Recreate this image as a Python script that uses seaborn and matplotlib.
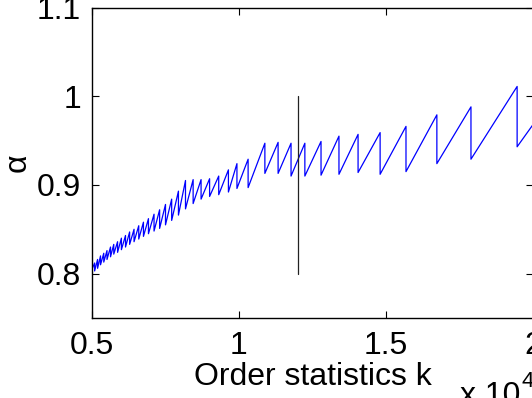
import seaborn as sns
import matplotlib.pyplot as plt
import pandas as pd

# jump positions (k / 1e4) with the value just before (peak) and after (trough) each drop
jump_k = [0.509, 0.519, 0.529, 0.540, 0.551, 0.563, 0.574, 0.587, 0.600, 0.614,
          0.628, 0.643, 0.659, 0.675, 0.692, 0.711, 0.730, 0.750, 0.771, 0.794,
          0.818, 0.844, 0.871, 0.900, 0.931, 0.964, 0.993,
          1.031, 1.088, 1.133, 1.177, 1.224, 1.279, 1.340, 1.405, 1.480,
          1.568, 1.673, 1.789, 1.946]
peak_alpha = [0.812, 0.816, 0.820, 0.823, 0.826, 0.830, 0.833, 0.836, 0.840, 0.843,
              0.847, 0.850, 0.854, 0.858, 0.862, 0.867, 0.872, 0.878, 0.884, 0.893,
              0.905, 0.906, 0.906, 0.907, 0.910, 0.917, 0.924,
              0.929, 0.947, 0.948, 0.947, 0.947, 0.949, 0.955, 0.957, 0.959,
              0.966, 0.979, 0.988, 1.011]
trough_alpha = [0.803, 0.806, 0.810, 0.813, 0.816, 0.819, 0.822, 0.824, 0.827, 0.830,
                0.833, 0.836, 0.839, 0.842, 0.845, 0.848, 0.851, 0.855, 0.860, 0.866,
                0.873, 0.879, 0.884, 0.887, 0.889, 0.892, 0.896,
                0.897, 0.913, 0.913, 0.910, 0.910, 0.911, 0.912, 0.914, 0.912,
                0.915, 0.924, 0.929, 0.943]
start_point = (0.5, 0.805)
end_point = (2.0, 0.968)

# vertical marker
marker_k = [1.2, 1.2]
marker_alpha = [0.8, 1.0]

x_ticks = [0.5, 1, 1.5, 2]
x_tick_labels = ["0.5", "1", "1.5", "2"]
y_ticks = [0.8, 0.9, 1.0, 1.1]
y_tick_labels = ["0.8", "0.9", "1", "1.1"]

# build the sawtooth path
k_vals = [start_point[0]]
a_vals = [start_point[1]]
for k, p, t in zip(jump_k, peak_alpha, trough_alpha):
    k_vals += [k, k]
    a_vals += [p, t]
k_vals.append(end_point[0])
a_vals.append(end_point[1])
df = pd.DataFrame({"k": k_vals, "alpha": a_vals})

sns.set_style("ticks")
plt.rcParams["font.family"] = ["Liberation Sans", "DejaVu Sans"]
plt.rcParams["text.color"] = "black"
plt.rcParams["axes.labelcolor"] = "black"

fig = plt.figure(figsize=(5.32, 3.98), dpi=100)
ax = fig.add_axes([92 / 532, 80 / 398, 441 / 532, 310.5 / 398])

sns.lineplot(data=df, x="k", y="alpha", sort=False, estimator=None,
             color="#0000ff", linewidth=0.9, ax=ax)
sns.lineplot(x=marker_k, y=marker_alpha, sort=False, estimator=None,
             color="#222222", linewidth=0.9, ax=ax)

ax.set_xlim(0.5, 2.0)
ax.set_ylim(0.75, 1.1)
ax.set_xticks(x_ticks)
ax.set_xticklabels(x_tick_labels)
ax.set_yticks(y_ticks)
ax.set_yticklabels(y_tick_labels)
ax.tick_params(direction="in", length=5, width=0.8, labelsize=23,
               top=True, right=True, colors="black")
ax.tick_params(axis="x", pad=9)
ax.tick_params(axis="y", pad=8)
for s in ax.spines.values():
    s.set_visible(True)
    s.set_linewidth(1.0)
    s.set_color("black")

ax.set_xlabel("Order statistics k", fontsize=23, labelpad=1)
ax.set_ylabel("α", fontsize=23, labelpad=3)

fig.text(460 / 532, -6 / 398, "x 10", fontsize=23, va="baseline", ha="left")
fig.text(522 / 532, 11 / 398, "4", fontsize=16, va="baseline", ha="left")

fig.savefig("out.png", dpi=100)
